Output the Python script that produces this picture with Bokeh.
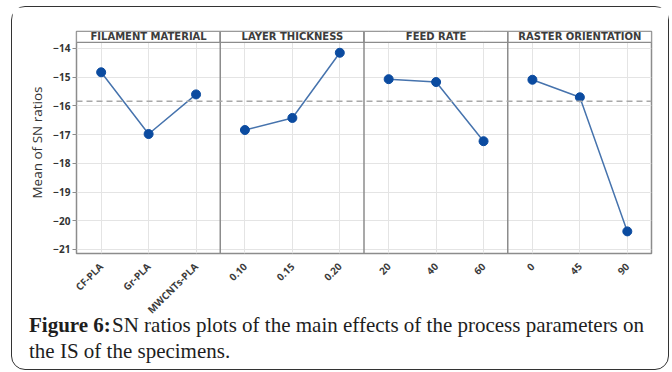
import math
from bokeh.plotting import figure
from bokeh.layouts import column
from bokeh.models import Range1d, FixedTicker, Span, ColumnDataSource
from bokeh.core.properties import value
from bokeh.embed import file_html
from bokeh.resources import INLINE

# ---- data ----
panel_titles = ["FILAMENT MATERIAL", "LAYER THICKNESS", "FEED RATE", "RASTER ORIENTATION"]
filament_labels = ["CF-PLA", "Gr-PLA", "MWCNTs-PLA"]
filament_sn = [-14.83, -16.98, -15.60]
layer_labels = ["0.10", "0.15", "0.20"]
layer_sn = [-16.84, -16.42, -14.15]
feed_labels = ["20", "40", "60"]
feed_sn = [-15.07, -15.17, -17.23]
raster_labels = ["0", "45", "90"]
raster_sn = [-15.09, -15.70, -20.37]
overall_mean = -15.84
y_ticks = [-21, -20, -19, -18, -17, -16, -15, -14]

caption_bold = "Figure 6:"
caption_line1 = "SN ratios plots of the main effects of the process parameters on"
caption_line2 = "the IS of the specimens."

all_labels = [filament_labels, layer_labels, feed_labels, raster_labels]
all_sn = [filament_sn, layer_sn, feed_sn, raster_sn]

# ---- layout constants ----
STEP = 100          # distance between levels (x units)
PANEL = 303         # panel width (x units)
PAD = 52            # left padding inside a panel (x units)
Y_LO, Y_HI = -21.14, -13.41
STRIP_LO = -13.79

W = 656
ML, MR, MT, MB = 64, 17, 24, 75
H = 222 + MT + MB
CAP_H = 62
CAP_OVERLAP = 21

p = figure(width=W, height=H,
           x_range=Range1d(-PAD, 4 * PANEL - PAD),
           y_range=Range1d(Y_LO, Y_HI),
           output_backend="svg", toolbar_location=None,
           min_border_left=ML, min_border_right=MR,
           min_border_top=MT, min_border_bottom=MB)
p.background_fill_color = "white"
p.border_fill_color = "white"
p.outline_line_color = "#8c8c8c"
p.outline_line_width = 1.5

tick_x = []
overrides = {}
for i, labs in enumerate(all_labels):
    for j, lab in enumerate(labs):
        xv = i * PANEL + j * STEP
        tick_x.append(xv)
        overrides[xv] = lab

# grids
p.xgrid.ticker = FixedTicker(ticks=tick_x)
p.ygrid.ticker = FixedTicker(ticks=y_ticks)
p.grid.grid_line_color = "#e4e4e4"
p.grid.grid_line_width = 1

# strips (panel headers)
p.quad(left=[i * PANEL - PAD for i in range(4)],
       right=[(i + 1) * PANEL - PAD for i in range(4)],
       top=[Y_HI] * 4, bottom=[STRIP_LO] * 4,
       fill_color="white", line_color="#8c8c8c", line_width=1.2)
p.text(x=[i * PANEL + STEP for i in range(4)],
       y=[(Y_HI + STRIP_LO) / 2] * 4, text=panel_titles,
       text_align="center", text_baseline="middle",
       text_font=value("DejaVu Sans"), text_font_style="bold",
       text_font_size="10px", text_color="#3c3c3c")

# panel separators
for i in range(1, 4):
    p.add_layout(Span(location=i * PANEL - PAD, dimension="height",
                      line_color="#8c8c8c", line_width=1.5))

# overall mean reference line
p.add_layout(Span(location=overall_mean, dimension="width",
                  line_color="#a8a8a8", line_width=1.5, line_dash="6 4"))

# lines + points
for i, vals in enumerate(all_sn):
    xs = [i * PANEL + j * STEP for j in range(len(vals))]
    src = ColumnDataSource(dict(x=xs, y=vals))
    p.line("x", "y", source=src, line_color="#4673ad", line_width=1.5)
    p.scatter("x", "y", source=src, size=9, fill_color="#0b4ba0",
              line_color="#0b4ba0")

# y axis
p.yaxis.ticker = FixedTicker(ticks=y_ticks)
p.yaxis.axis_label = "Mean of SN ratios"
p.yaxis.axis_label_text_font = "Open Sans"
p.yaxis.axis_label_text_font_style = "normal"
p.yaxis.axis_label_text_font_size = "13.5px"
p.yaxis.axis_label_text_color = "#333333"
p.yaxis.axis_label_standoff = 4
p.yaxis.major_label_text_font = "Open Sans"
p.yaxis.major_label_text_font_style = "bold"
p.yaxis.major_label_text_font_size = "10px"
p.yaxis.major_label_text_color = "#333333"
p.yaxis.major_label_standoff = 2
p.yaxis.major_tick_out = 4
p.yaxis.major_tick_in = 0
p.yaxis.major_tick_line_color = "#8c8c8c"
p.yaxis.minor_tick_line_color = None
p.yaxis.axis_line_color = None

# x axis
p.xaxis.ticker = FixedTicker(ticks=tick_x)
p.xaxis.major_label_overrides = overrides
p.xaxis.major_label_orientation = math.pi / 4
p.xaxis.major_label_text_font = "Open Sans"
p.xaxis.major_label_text_font_style = "bold"
p.xaxis.major_label_text_font_size = "10px"
p.xaxis.major_label_text_color = "#3c3c3c"
p.xaxis.major_label_standoff = 5
p.xaxis.major_tick_line_color = None
p.xaxis.minor_tick_line_color = None
p.xaxis.axis_line_color = None

# caption panel (text only, coordinates are pixels of this small panel)
cap = figure(width=W, height=CAP_H, x_range=Range1d(0, W), y_range=Range1d(CAP_H, 0),
             output_backend="svg", toolbar_location=None,
             x_axis_location=None, y_axis_location=None, min_border=0,
             margin=(-CAP_OVERLAP, 0, 0, 0))
cap.frame_align = False
p.frame_align = False
cap.outline_line_color = None
cap.grid.grid_line_color = None
cap.background_fill_alpha = 0
cap.border_fill_alpha = 0
cap_font = value("Liberation Serif")
cap.text(x=[16.5], y=[17], text=[caption_bold], text_font=cap_font,
         text_font_style="bold", text_font_size="21px", text_color="#1e1e1e",
         text_baseline="alphabetic", text_align="left")
cap.text(x=[99.5, 16.5], y=[17, 43], text=[caption_line1, caption_line2],
         text_font=cap_font, text_font_size="21px", text_color="#1e1e1e",
         text_baseline="alphabetic", text_align="left")

layout = column(p, cap, spacing=0, margin=(6, 0, 0, 11),
                styles={"border": "1.5px solid #333333", "border-radius": "14px",
                        "background-color": "white"})

open("out.html", "w").write(file_html(layout, INLINE))
